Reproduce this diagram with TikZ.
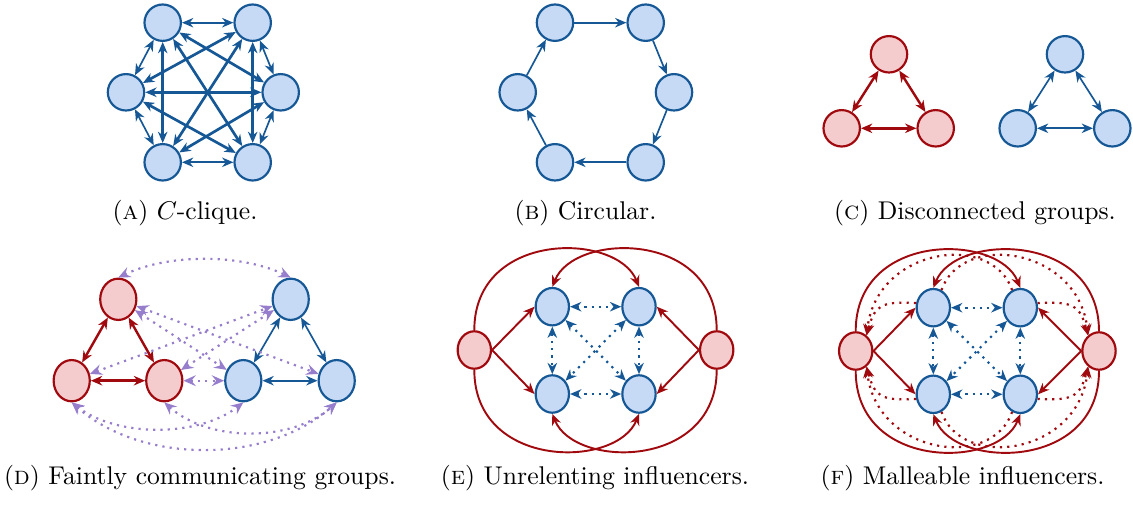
\documentclass[tikz,border=0pt]{standalone}
\usetikzlibrary{arrows.meta,shapes.geometric}
\definecolor{bfill}{RGB}{198,218,245}
\definecolor{bline}{RGB}{22,88,150}
\definecolor{rfill}{RGB}{245,204,206}
\definecolor{rline}{RGB}{160,10,15}
\definecolor{purp}{RGB}{150,126,205}
\begin{document}
\begin{tikzpicture}[x=0.39pt,y=-0.39pt,
  >={Stealth[length=4.4pt,width=3.7pt,inset=1.4pt]},
  bnode/.style={circle,draw=bline,fill=bfill,line width=0.85pt,minimum size=14.2pt,inner sep=0pt},
  rnode/.style={circle,draw=rline,fill=rfill,line width=0.85pt,minimum size=14.2pt,inner sep=0pt},
  bell/.style={ellipse,draw=bline,fill=bfill,line width=0.85pt,inner sep=0pt},
  rell/.style={ellipse,draw=rline,fill=rfill,line width=0.85pt,inner sep=0pt},
  dsize/.style={minimum width=14.1pt,minimum height=16.1pt},
  esize/.style={minimum width=13pt,minimum height=14.6pt},
  bthin/.style={draw=bline,line width=0.65pt},
  bthick/.style={draw=bline,line width=1.05pt},
  rthick/.style={draw=rline,line width=0.95pt},
  rsolid/.style={draw=rline,line width=0.75pt},
  bdot/.style={draw=bline,line width=0.85pt,dotted},
  pdot/.style={draw=purp,line width=0.85pt,dotted,>={Stealth[length=4.8pt,width=4.2pt,inset=1.7pt]}},
  rdot/.style={draw=rline,line width=0.85pt,dotted},
  lbl/.style={anchor=base,inner sep=0pt}
]
\useasboundingbox (0,0) rectangle (1133,506);

% ---------- (A) C-clique
\node[bnode] (a1) at (162.7,22.7) {};
\node[bnode] (a2) at (252.7,22.7) {};
\node[bnode] (a3) at (280.7,92.3) {};
\node[bnode] (a4) at (252.7,162.3) {};
\node[bnode] (a5) at (162.7,162.3) {};
\node[bnode] (a6) at (126,92.3) {};
\foreach \u/\v in {a1/a2,a2/a3,a3/a4,a4/a5,a5/a6,a6/a1}
  \draw[bthin,<->] (\u) -- (\v);
\foreach \u/\v in {a1/a3,a1/a4,a1/a5,a2/a6,a2/a5,a2/a4,a3/a5,a3/a6,a4/a6}
  \draw[bthick,<->] (\u) -- (\v);

% ---------- (B) Circular
\node[bnode] (b1) at (555,22.7) {};
\node[bnode] (b2) at (645.7,22.7) {};
\node[bnode] (b3) at (674,92.3) {};
\node[bnode] (b4) at (645.7,162.3) {};
\node[bnode] (b5) at (555,162.3) {};
\node[bnode] (b6) at (517.7,92.3) {};
\foreach \u/\v in {b1/b2,b2/b3,b3/b4,b4/b5,b5/b6,b6/b1}
  \draw[bthin,->] (\u) -- (\v);

% ---------- (C) Disconnected groups
\node[rnode] (c1) at (889,54.3) {};
\node[rnode] (c2) at (841.7,128.3) {};
\node[rnode] (c3) at (935.7,128.3) {};
\node[bnode] (c4) at (1065,54.3) {};
\node[bnode] (c5) at (1017.7,128.3) {};
\node[bnode] (c6) at (1112.3,128.3) {};
\foreach \u/\v in {c1/c2,c1/c3,c2/c3}
  \draw[rthick,<->] (\u) -- (\v);
\foreach \u/\v in {c4/c5,c4/c6,c5/c6}
  \draw[bthin,<->] (\u) -- (\v);

% ---------- (D) Faintly communicating groups
\node[rell,dsize] (d1) at (118.3,299.3) {};
\node[rell,dsize] (d2) at (71.7,380.7) {};
\node[rell,dsize] (d3) at (164.3,380.7) {};
\node[bell,dsize] (d4) at (290.7,299.3) {};
\node[bell,dsize] (d5) at (243.3,380.7) {};
\node[bell,dsize] (d6) at (336.7,380.7) {};
\foreach \u/\v in {d1/d2,d1/d3,d2/d3}
  \draw[rthick,<->] (\u) -- (\v);
\foreach \u/\v in {d4/d5,d4/d6,d5/d6}
  \draw[bthin,<->] (\u) -- (\v);
\foreach \u/\v in {d1/d5,d1/d6,d2/d4,d3/d4,d3/d5}
  \draw[pdot,<->] (\u) -- (\v);
\draw[pdot,<->] (d1.north) .. controls +(50,-24) and +(-50,-24) .. (d4.north);
\draw[pdot,<->] (d2.south) .. controls +(45,35) and +(-45,35) .. (d5.south);
\draw[pdot,<->] (d3.south) .. controls +(45,40) and +(-45,40) .. (d6.south);
\draw[pdot,<->] (d2.south) .. controls +(70,62) and +(-70,62) .. (d6.south);

% ---------- (E) Unrelenting influencers
\node[rell,esize] (e1) at (474.3,350) {};
\node[rell,esize] (e2) at (716.7,350) {};
\node[bell,esize] (e3) at (552.3,306.7) {};
\node[bell,esize] (e4) at (639,306.7) {};
\node[bell,esize] (e5) at (552.3,394) {};
\node[bell,esize] (e6) at (639,394) {};
\foreach \u/\v in {e3/e4,e5/e6,e3/e5,e4/e6,e3/e6,e4/e5}
  \draw[bdot,<->] (\u) -- (\v);
\draw[rsolid,->] (e1.east) -- (e3.west);
\draw[rsolid,->] (e1.east) -- (e5.west);
\draw[rsolid,->] (e2.west) -- (e4.east);
\draw[rsolid,->] (e2.west) -- (e6.east);
\draw[rsolid,->] (e1.north) .. controls +(0,-100) and +(-22,-55) .. (e4.north);
\draw[rsolid,->] (e2.north) .. controls +(0,-100) and +(22,-55) .. (e3.north);
\draw[rsolid,->] (e1.south) .. controls +(0,100) and +(-22,55) .. (e6.south);
\draw[rsolid,->] (e2.south) .. controls +(0,100) and +(22,55) .. (e5.south);

% ---------- (F) Malleable influencers
\node[rell,esize] (f1) at (855.7,351) {};
\node[rell,esize] (f2) at (1099,351) {};
\node[bell,esize] (f3) at (933.3,307.7) {};
\node[bell,esize] (f4) at (1020.3,307.7) {};
\node[bell,esize] (f5) at (933.3,394.3) {};
\node[bell,esize] (f6) at (1020.3,394.3) {};
\foreach \u/\v in {f3/f4,f5/f6,f3/f5,f4/f6,f3/f6,f4/f5}
  \draw[bdot,<->] (\u) -- (\v);
\draw[rsolid,->] (f1.east) -- (f3.west);
\draw[rsolid,->] (f1.east) -- (f5.west);
\draw[rsolid,->] (f2.west) -- (f4.east);
\draw[rsolid,->] (f2.west) -- (f6.east);
\draw[rsolid,->] (f1.north) .. controls +(0,-100) and +(-22,-55) .. (f4.north);
\draw[rsolid,->] (f2.north) .. controls +(0,-100) and +(22,-55) .. (f3.north);
\draw[rsolid,->] (f1.south) .. controls +(0,100) and +(-22,55) .. (f6.south);
\draw[rsolid,->] (f2.south) .. controls +(0,100) and +(22,55) .. (f5.south);
% dotted feedback into the influencers
\draw[rdot,->] (f3.165) .. controls +(-35,-2) and +(8,-30) .. (f1.55);
\draw[rdot,->] (f4.115) .. controls +(-20,-59) and +(10,-88) .. (f1.55);
\draw[rdot,->] (f4.15) .. controls +(35,-2) and +(-8,-30) .. (f2.125);
\draw[rdot,->] (f3.65) .. controls +(20,-59) and +(-10,-88) .. (f2.125);
\draw[rdot,->] (f5.195) .. controls +(-35,2) and +(8,30) .. (f1.305);
\draw[rdot,->] (f6.245) .. controls +(-20,59) and +(10,88) .. (f1.305);
\draw[rdot,->] (f6.345) .. controls +(35,2) and +(-8,30) .. (f2.235);
\draw[rdot,->] (f5.295) .. controls +(20,59) and +(-10,88) .. (f2.235);

% ---------- captions
\node[lbl] (capA) at (185,220) {(\textsc{a}) $C$-clique.};
\node[lbl] (capB) at (585.5,220) {(\textsc{b}) Circular.};
\node[lbl] (capC) at (975,220) {(\textsc{c}) Disconnected groups.};
\node[lbl] (capD) at (200,485) {(\textsc{d}) Faintly communicating groups.};
\node[lbl] (capE) at (595,485) {(\textsc{e}) Unrelenting influencers.};
\node[lbl] (capF) at (962.5,485) {(\textsc{f}) Malleable influencers.};
\end{tikzpicture}
\end{document}
